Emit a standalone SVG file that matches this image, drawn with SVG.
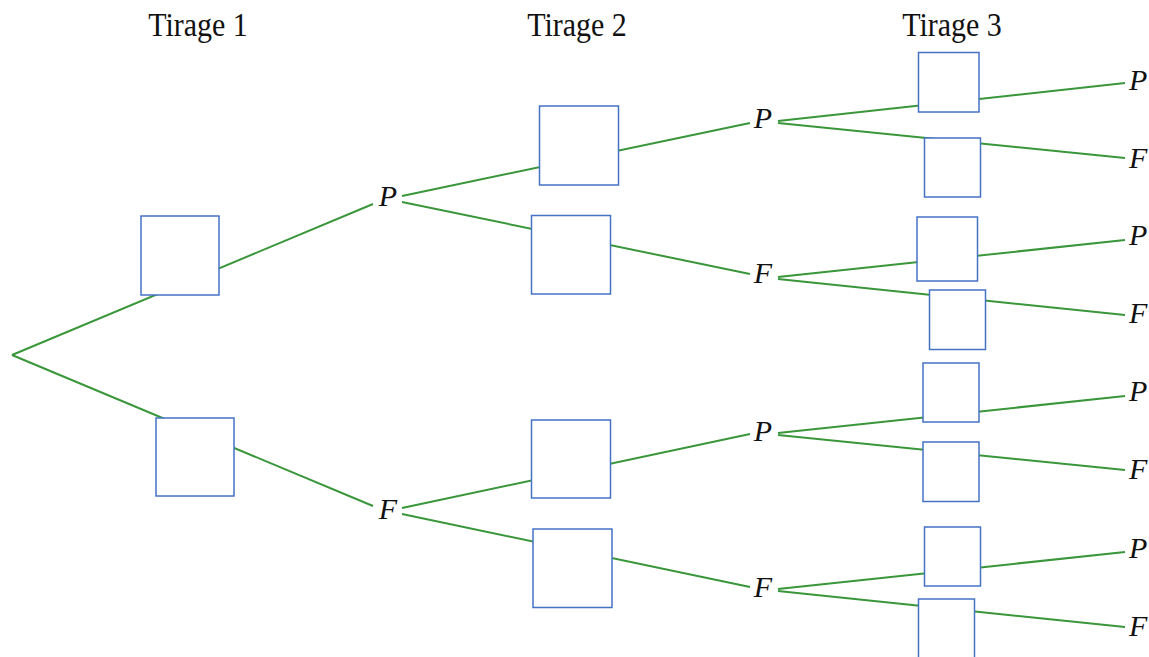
<svg xmlns="http://www.w3.org/2000/svg" width="1149" height="657" viewBox="0 0 1149 657">
<style>
.e{stroke:#3a963a;stroke-width:2;fill:none}
.b{fill:#fff;stroke:#4472c4;stroke-width:1.5}
.t{font-family:"Liberation Serif","Times New Roman",serif;font-size:30px;fill:#111}
.l{font-family:"Liberation Serif","Times New Roman",serif;font-style:italic;font-size:30px;fill:#111}
</style>
<rect width="1149" height="657" fill="#fff"/>
<g id="titles">
<text class="t" x="198" y="36" text-anchor="middle" transform="translate(0,-5) scale(1,1.14)">Tirage 1</text>
<text class="t" x="577" y="36" text-anchor="middle" transform="translate(0,-5) scale(1,1.14)">Tirage 2</text>
<text class="t" x="952" y="36" text-anchor="middle" transform="translate(0,-5) scale(1,1.14)">Tirage 3</text>
</g>
<g id="connectors">
<line class="e" x1="12" y1="355" x2="373" y2="204"/>
<line class="e" x1="12" y1="355" x2="373" y2="506"/>
<line class="e" x1="402" y1="196" x2="750" y2="123"/>
<line class="e" x1="402" y1="202" x2="750" y2="274"/>
<line class="e" x1="402" y1="508" x2="750" y2="434"/>
<line class="e" x1="402" y1="514" x2="750" y2="587"/>
<line class="e" x1="778" y1="121" x2="1125" y2="83"/>
<line class="e" x1="778" y1="123" x2="1125" y2="158"/>
<line class="e" x1="778" y1="277" x2="1125" y2="240"/>
<line class="e" x1="778" y1="279" x2="1125" y2="315"/>
<line class="e" x1="778" y1="433" x2="1125" y2="396"/>
<line class="e" x1="778" y1="435" x2="1125" y2="470"/>
<line class="e" x1="778" y1="589" x2="1125" y2="552"/>
<line class="e" x1="778" y1="591" x2="1125" y2="627"/>
</g>
<g id="box1a"><rect class="b" x="141" y="216" width="78" height="79"/></g>
<g id="box1b"><rect class="b" x="156" y="418" width="78" height="78"/></g>
<g id="box2a"><rect class="b" x="539.5" y="106" width="79" height="79"/></g>
<g id="box2b"><rect class="b" x="531.5" y="215.5" width="79" height="78.5"/></g>
<g id="box2c"><rect class="b" x="531.5" y="420" width="79" height="78"/></g>
<g id="box2d"><rect class="b" x="533" y="529" width="79" height="78.5"/></g>
<g id="box3a"><rect class="b" x="918.5" y="52.5" width="60.5" height="59.5"/></g>
<g id="box3b"><rect class="b" x="924.5" y="138" width="56" height="59"/></g>
<g id="box3c"><rect class="b" x="917" y="217" width="60.5" height="64"/></g>
<g id="box3d"><rect class="b" x="929.5" y="290" width="56" height="59.5"/></g>
<g id="box3e"><rect class="b" x="923" y="363" width="56" height="59"/></g>
<g id="box3f"><rect class="b" x="923" y="442" width="56" height="59.5"/></g>
<g id="box3g"><rect class="b" x="924.5" y="527" width="56" height="59"/></g>
<g id="box3h"><rect class="b" x="918.5" y="599" width="56" height="62"/></g>
<g id="labels">
<text class="l" x="388" y="206" text-anchor="middle">P</text>
<text class="l" x="388" y="519" text-anchor="middle">F</text>
<text class="l" x="763" y="128" text-anchor="middle">P</text>
<text class="l" x="763" y="283" text-anchor="middle">F</text>
<text class="l" x="763" y="441" text-anchor="middle">P</text>
<text class="l" x="763" y="597" text-anchor="middle">F</text>
<text class="l" x="1129" y="90">P</text>
<text class="l" x="1129" y="168">F</text>
<text class="l" x="1129" y="245">P</text>
<text class="l" x="1129" y="323">F</text>
<text class="l" x="1129" y="401">P</text>
<text class="l" x="1129" y="479">F</text>
<text class="l" x="1129" y="558">P</text>
<text class="l" x="1129" y="636">F</text>
</g>
</svg>
